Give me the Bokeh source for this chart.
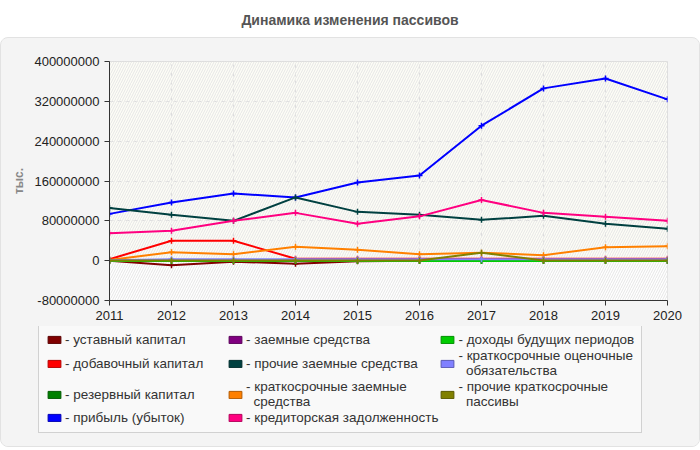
from bokeh.plotting import figure
from bokeh.models import (ColumnDataSource, Legend, LegendItem, FixedTicker,
                          NumeralTickFormatter, Div, BoxAnnotation, Range1d)
from bokeh.layouts import column
from bokeh.embed import file_html
from bokeh.resources import INLINE

# Balance sheet liabilities, thousands of roubles
years = [2011, 2012, 2013, 2014, 2015, 2016, 2017, 2018, 2019, 2020]

ustavny_kapital = [0, -9e6, -2e6, -6e6, -1e6, 0, 0, 0, 0, 0]
dobavochny_kapital = [3e6, 40e6, 40e6, 4e6, 4e6, 4e6, 4e6, 4e6, 4e6, 4e6]
rezervny_kapital = [5e5, 5e5, 5e5, 5e5, 5e5, 5e5, 5e5, 5e5, 5e5, 5e5]
pribyl = [94e6, 117e6, 135e6, 127e6, 157e6, 171e6, 271e6, 346e6, 366e6, 324e6]
zaemnye_sredstva = [0, 0, 0, 0, 0, 0, 0, 0, 0, 0]
prochie_zaemnye = [106e6, 92e6, 80e6, 127e6, 98e6, 92e6, 82e6, 90e6, 74e6, 64e6]
kratkosrochnye_zaemnye = [1.5e6, 17e6, 13e6, 28e6, 22e6, 13e6, 16e6, 11e6, 27e6, 29e6]
kreditorskaya = [55e6, 60e6, 80e6, 96e6, 74e6, 89e6, 122e6, 96e6, 88e6, 80e6]
dohody_budushchih = [-5e5, -5e5, -5e5, -5e5, -5e5, -5e5, -5e5, -5e5, -5e5, -5e5]
ocenochnye = [1e6, 3e6, 3e6, 3e6, 3e6, 3e6, 3e6, 3e6, 3e6, 3e6]
prochie_kratkosrochnye = [5e5, 5e5, 5e5, 5e5, 5e5, 5e5, 16e6, 5e5, 5e5, 5e5]

series = [
    ("- уставный капитал", ustavny_kapital, "#800000", "#5a0000"),
    ("- добавочный капитал", dobavochny_kapital, "#ff0000", "#b30000"),
    ("- резервный капитал", rezervny_kapital, "#008000", "#005a00"),
    ("- прибыль (убыток)", pribyl, "#0000ff", "#0000b3"),
    ("- заемные средства", zaemnye_sredstva, "#800080", "#5a005a"),
    ("- прочие заемные средства", prochie_zaemnye, "#004040", "#002d2d"),
    ("- краткосрочные заемные\n  средства", kratkosrochnye_zaemnye, "#ff8000", "#b35a00"),
    ("- кредиторская задолженность", kreditorskaya, "#ff0080", "#b3005a"),
    ("- доходы будущих периодов", dohody_budushchih, "#00cc00", "#008f00"),
    ("- краткосрочные оценочные\n  обязательства", ocenochnye, "#8080ff", "#5a5ab3"),
    ("- прочие краткосрочные\n  пассивы", prochie_kratkosrochnye, "#808000", "#5a5a00"),
]

y_ticks = [-80e6, 0, 80e6, 160e6, 240e6, 320e6, 400e6]

FONT = "Liberation Sans"
PANEL = "#f4f4f4"

title = Div(
    text="Динамика изменения пассивов",
    width=700, height=37,
    styles={"text-align": "center", "width": "700px", "font-family": FONT,
            "font-weight": "bold", "font-size": "14px", "color": "#555555",
            "line-height": "40px", "margin": "0", "padding": "0"},
)

p = figure(
    width=698, height=288,
    x_range=Range1d(2011, 2020), y_range=Range1d(-80e6, 400e6),
    output_backend="svg", toolbar_location=None,
    min_border_left=108, min_border_right=32,
    min_border_top=23, min_border_bottom=26,
    border_fill_color=PANEL, background_fill_color="#fdfdf6",
    outline_line_color="#dddddd",
)

# faint diagonal hatching over the plotting area, white below zero
p.add_layout(BoxAnnotation(top=0, fill_color="white", fill_alpha=1.0,
                           line_alpha=0, level="underlay"))
p.add_layout(BoxAnnotation(fill_alpha=0, line_alpha=0, hatch_pattern="/",
                           hatch_color="#e6e6e6", hatch_scale=5,
                           hatch_weight=1, level="underlay"))

# separate strip below the chart that carries the legend
leg_fig = figure(
    width=698, height=120, x_axis_type=None, y_axis_type=None,
    x_range=Range1d(0, 1), y_range=Range1d(0, 1),
    output_backend="svg", toolbar_location=None,
    min_border=0, border_fill_color=PANEL, background_fill_color=PANEL,
    outline_line_color=None,
)
leg_fig.xgrid.visible = False
leg_fig.ygrid.visible = False
if "frame_align" in leg_fig.properties():
    leg_fig.frame_align = False
    p.frame_align = False

items = []
for label, vals, color, edge in series:
    src = ColumnDataSource(dict(x=years, y=vals))
    p.line("x", "y", source=src, line_color=color, line_width=2)
    p.scatter("x", "y", source=src, marker="cross", size=6,
              line_color=color, line_width=1.5)
    # legend swatch proxy, kept outside the strip's visible range
    sw = leg_fig.quad(left=[-2], right=[-1], top=[-1], bottom=[-2],
                      fill_color=color, line_color=edge, line_width=1)
    items.append(LegendItem(label=label, renderers=[sw]))

p.xaxis.ticker = FixedTicker(ticks=years)
p.yaxis.ticker = FixedTicker(ticks=y_ticks)
p.yaxis.formatter = NumeralTickFormatter(format="0")

for ax in (p.xaxis, p.yaxis):
    ax.axis_line_color = "#333333"
    ax.major_tick_line_color = "#333333"
    ax.major_tick_out = 5
    ax.major_tick_in = 0
    ax.minor_tick_line_color = None
    ax.major_label_text_font = FONT
    ax.major_label_text_font_size = "13px"
    ax.major_label_text_color = "#222222"

p.yaxis.axis_label = "тыс."
p.yaxis.axis_label_text_font = FONT
p.yaxis.axis_label_text_font_size = "12px"
p.yaxis.axis_label_text_font_style = "bold"
p.yaxis.axis_label_text_color = "#888888"

p.xgrid.grid_line_color = "#dddddd"
p.ygrid.grid_line_color = "#dddddd"
p.xgrid.grid_line_dash = "4 4"
p.ygrid.grid_line_dash = "4 4"

legend = Legend(
    items=items, orientation="vertical", ncols=3,
    location=(37, 13),
    glyph_width=16, glyph_height=9,
    label_text_font=FONT, label_text_font_size="13.5px",
    label_text_color="#333333", label_text_line_height=0.95,
    label_standoff=3, label_width=161, label_height=13,
    spacing=1, padding=7, margin=0,
    background_fill_color="#f9f9f9", background_fill_alpha=1.0,
    border_line_color="#aaaaaa",
)
leg_fig.add_layout(legend, "center")

panel = column(p, leg_fig, spacing=0,
               styles={"border": "1px solid #e2e2e2", "border-radius": "8px",
                       "background-color": PANEL, "overflow": "hidden"})
layout = column(title, panel, spacing=0)

open("out.html", "w").write(file_html(layout, INLINE))
